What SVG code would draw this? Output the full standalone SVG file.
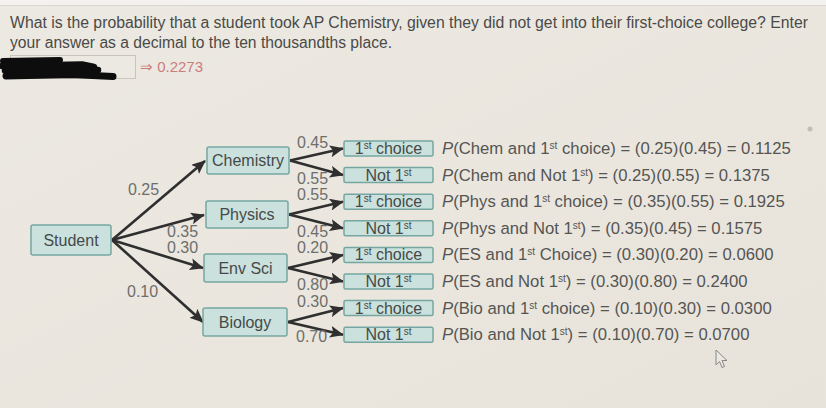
<svg xmlns="http://www.w3.org/2000/svg" width="826" height="408" viewBox="0 0 826 408">
<defs>
<linearGradient id="bg" x1="0" y1="0" x2="1" y2="1">
<stop offset="0" stop-color="#ece9e2"/>
<stop offset="0.6" stop-color="#eae6de"/>
<stop offset="1" stop-color="#e7e3db"/>
</linearGradient>
<marker id="ah" markerUnits="userSpaceOnUse" markerWidth="14" markerHeight="12" refX="13" refY="6" orient="auto">
<path d="M0,0 L14,6 L0,12 L3,6 Z" fill="#2f2f2f"/>
</marker>
<style>
text{font-family:"Liberation Sans",Arial,sans-serif;}
.q{font-size:16px;fill:#4a4a48;}
.box{fill:#cbe1dd;stroke:#76a6a1;stroke-width:1.5;}
.nt{font-size:16px;fill:#454a49;text-anchor:middle;}
.num{font-size:16px;fill:#6e6e6c;}
.f{font-size:16.7px;fill:#555553;}
.sup{font-size:10px;}
.c{fill:none;stroke:#2f2f2f;stroke-width:2.6;marker-end:url(#ah);}
</style>
</defs>
<rect width="826" height="408" fill="url(#bg)"/>
<rect width="826" height="5" fill="#f3f2ef"/>
<line x1="0" y1="5.5" x2="826" y2="5.5" stroke="#d8d5ce" stroke-width="1"/>

<text class="q" x="10" y="28" textLength="798" lengthAdjust="spacingAndGlyphs">What is the probability that a student took AP Chemistry, given they did not get into their first-choice college? Enter</text>
<text class="q" x="10" y="48" textLength="382" lengthAdjust="spacingAndGlyphs">your answer as a decimal to the ten thousandths place.</text>

<rect x="10.5" y="55.5" width="125" height="23" fill="#ece9e3" stroke="#c9c5bd" stroke-width="1"/>
<g fill="none" stroke="#0d0d0d" stroke-linecap="round" stroke-linejoin="round">
<path d="M3,61 L60,60" stroke-width="6"/>
<path d="M2,66 L82,64.5 L94,67" stroke-width="6.5"/>
<path d="M5,70.5 L98,70" stroke-width="6.5"/>
<path d="M6,76 L72,74.5 L113,76.5" stroke-width="7"/>
</g>
<text x="140" y="72" style="font-size:15px;fill:#cd7c7e;">⇒ 0.2273</text>

<g id="connectors">
<line class="c" x1="112" y1="240" x2="205" y2="161"/>
<line class="c" x1="112" y1="240" x2="204" y2="215"/>
<line class="c" x1="112" y1="240" x2="203" y2="268"/>
<line class="c" x1="112" y1="240" x2="203" y2="322"/>
<line class="c" x1="290" y1="160.5" x2="343" y2="148.5"/>
<line class="c" x1="290" y1="160.5" x2="343" y2="175.1"/>
<line class="c" x1="289" y1="214.5" x2="343" y2="201.7"/>
<line class="c" x1="289" y1="214.5" x2="343" y2="228.3"/>
<line class="c" x1="288" y1="268" x2="343" y2="254.9"/>
<line class="c" x1="288" y1="268" x2="343" y2="281.5"/>
<line class="c" x1="288" y1="322" x2="343" y2="308.1"/>
<line class="c" x1="288" y1="322" x2="343" y2="334.7"/>
</g>

<g id="edge-labels">
<text class="num" x="128" y="195">0.25</text>
<text class="num" x="167" y="236.5">0.35</text>
<text class="num" x="167" y="252.5">0.30</text>
<text class="num" x="127" y="297">0.10</text>
<text class="num" x="297" y="148">0.45</text>
<text class="num" x="297" y="184">0.55</text>
<text class="num" x="297" y="200">0.55</text>
<text class="num" x="297" y="237">0.45</text>
<text class="num" x="297" y="253">0.20</text>
<text class="num" x="297" y="290">0.80</text>
<text class="num" x="297" y="307">0.30</text>
<text class="num" x="296" y="342">0.70</text>
</g>

<g id="student"><rect class="box" x="31" y="225" width="80" height="30" rx="2"/><text class="nt" x="71" y="246">Student</text></g>
<g id="chemistry"><rect class="box" x="207" y="147" width="82" height="27" rx="2"/><text class="nt" x="248" y="166">Chemistry</text></g>
<g id="physics"><rect class="box" x="206" y="201" width="82" height="27" rx="2"/><text class="nt" x="247" y="220">Physics</text></g>
<g id="envsci"><rect class="box" x="204" y="254" width="83" height="28" rx="2"/><text class="nt" x="245.5" y="274">Env Sci</text></g>
<g id="biology"><rect class="box" x="203" y="308" width="84" height="28" rx="2"/><text class="nt" x="245" y="328">Biology</text></g>

<g id="chem-first"><rect class="box" x="344" y="141" width="89" height="15" rx="1.5"/><text class="nt" x="388.5" y="154">1<tspan class="sup" baseline-shift="super">st</tspan> choice</text></g>
<g id="chem-not"><rect class="box" x="344" y="167.6" width="89" height="15" rx="1.5"/><text class="nt" x="388.5" y="180.6">Not 1<tspan class="sup" baseline-shift="super">st</tspan></text></g>
<g id="phys-first"><rect class="box" x="344" y="194.2" width="89" height="15" rx="1.5"/><text class="nt" x="388.5" y="207.2">1<tspan class="sup" baseline-shift="super">st</tspan> choice</text></g>
<g id="phys-not"><rect class="box" x="344" y="220.8" width="89" height="15" rx="1.5"/><text class="nt" x="388.5" y="233.8">Not 1<tspan class="sup" baseline-shift="super">st</tspan></text></g>
<g id="es-first"><rect class="box" x="344" y="247.4" width="89" height="15" rx="1.5"/><text class="nt" x="388.5" y="260.4">1<tspan class="sup" baseline-shift="super">st</tspan> choice</text></g>
<g id="es-not"><rect class="box" x="344" y="274" width="89" height="15" rx="1.5"/><text class="nt" x="388.5" y="287">Not 1<tspan class="sup" baseline-shift="super">st</tspan></text></g>
<g id="bio-first"><rect class="box" x="344" y="300.6" width="89" height="15" rx="1.5"/><text class="nt" x="388.5" y="313.6">1<tspan class="sup" baseline-shift="super">st</tspan> choice</text></g>
<g id="bio-not"><rect class="box" x="344" y="327.2" width="89" height="15" rx="1.5"/><text class="nt" x="388.5" y="340.2">Not 1<tspan class="sup" baseline-shift="super">st</tspan></text></g>

<g id="formulas">
<text class="f" x="442" y="154"><tspan font-style="italic">P</tspan>(Chem and 1<tspan class="sup" baseline-shift="super">st</tspan> choice) = (0.25)(0.45) = 0.1125</text>
<text class="f" x="442" y="180.6"><tspan font-style="italic">P</tspan>(Chem and Not 1<tspan class="sup" baseline-shift="super">st</tspan>) = (0.25)(0.55) = 0.1375</text>
<text class="f" x="442" y="207.2"><tspan font-style="italic">P</tspan>(Phys and 1<tspan class="sup" baseline-shift="super">st</tspan> choice) = (0.35)(0.55) = 0.1925</text>
<text class="f" x="442" y="233.8"><tspan font-style="italic">P</tspan>(Phys and Not 1<tspan class="sup" baseline-shift="super">st</tspan>) = (0.35)(0.45) = 0.1575</text>
<text class="f" x="442" y="260.4"><tspan font-style="italic">P</tspan>(ES and 1<tspan class="sup" baseline-shift="super">st</tspan> Choice) = (0.30)(0.20) = 0.0600</text>
<text class="f" x="442" y="287"><tspan font-style="italic">P</tspan>(ES and Not 1<tspan class="sup" baseline-shift="super">st</tspan>) = (0.30)(0.80) = 0.2400</text>
<text class="f" x="442" y="313.6"><tspan font-style="italic">P</tspan>(Bio and 1<tspan class="sup" baseline-shift="super">st</tspan> choice) = (0.10)(0.30) = 0.0300</text>
<text class="f" x="442" y="340.2"><tspan font-style="italic">P</tspan>(Bio and Not 1<tspan class="sup" baseline-shift="super">st</tspan>) = (0.10)(0.70) = 0.0700</text>
</g>

<circle cx="810" cy="129" r="2.5" fill="#c2beb7"/>
<path d="M716,350 L716,365 L719.5,361.5 L722,367.5 L724.5,366.5 L722,360.5 L727,360.5 Z" fill="#ebe8e2" stroke="#8a8884" stroke-width="1"/>
</svg>
